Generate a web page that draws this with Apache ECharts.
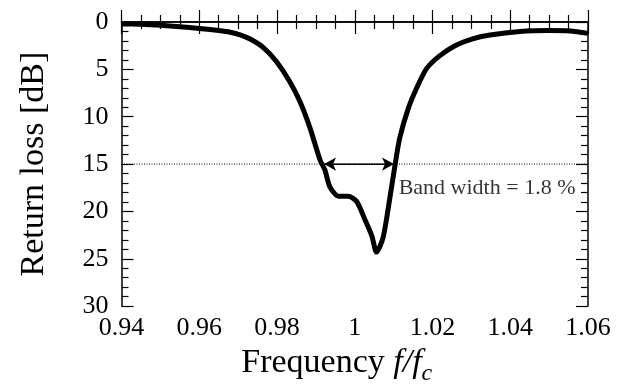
<!DOCTYPE html>
<html>
<head>
<meta charset="utf-8">
<script src="https://cdn.jsdelivr.net/npm/echarts@6/dist/echarts.min.js"></script>
<style>html,body{margin:0;padding:0;background:#fff}#c{width:622px;height:391px}</style>
</head>
<body>
<div id="c"></div>
<script>
var freq = [0.94,0.945,0.95,0.955,0.96,0.965,0.968,0.9705,0.9731,0.9765,0.9799,0.9833,0.9859,0.9885,0.9911,0.9923,0.9936,0.9958,0.9983,1.0005,1.0026,1.0044,1.0056,1.0073,1.0091,1.0104,1.0116,1.0138,1.0159,1.0185,1.0219,1.0258,1.0301,1.0348,1.0425,1.05,1.0554,1.06];
var returnLoss = [0.2,0.25,0.35,0.5,0.68,0.9,1.08,1.35,1.8,2.7,4.2,6.3,8.4,11.2,14.6,15.6,17.4,18.4,18.4,18.95,20.85,22.6,24.3,22.75,18.4,15.0,12.2,9.1,7.0,4.9,3.55,2.5,1.8,1.37,1.0,0.9,0.95,1.2];
var bandLevel = 15;
var bandEdges = [0.9921, 1.0101];
var bandLabel = 'Band width = 1.8 %';
var bandLabelPos = [1.0113, 17.6];
var xRange = [0.94, 1.06];
var yRange = [0, 30];

var FONT = "'Liberation Serif','Times New Roman',serif";
var chart = echarts.init(document.getElementById('c'));
var line = {color:'#000', width:1.5};
function fmt(v){ return String(parseFloat(v.toFixed(2))); }
var baseX = {type:'value', min:xRange[0], max:xRange[1], interval:0.02,
  axisLine:{show:true, lineStyle:line}, splitLine:{show:false},
  axisTick:{show:true, inside:true, length:12, lineStyle:{color:'#000', width:1.2}},
  minorTick:{show:true, splitNumber:4, length:7, lineStyle:{color:'#000', width:1.2}}};
var baseY = {type:'value', min:yRange[0], max:yRange[1], interval:5, inverse:true,
  axisLine:{show:true, lineStyle:line}, splitLine:{show:false},
  axisTick:{show:true, inside:true, length:12, lineStyle:{color:'#000', width:1.2}},
  minorTick:{show:true, splitNumber:5, length:7, lineStyle:{color:'#000', width:1.2}}};

chart.setOption({
  animation:false,
  grid:{left:121.5, right:34, top:22, bottom:80},
  xAxis:[
    Object.assign({}, baseX, {position:'bottom',
      axisLabel:{show:true, formatter:fmt, color:'#000', fontFamily:FONT, fontSize:26, margin:9},
      name:'Frequency {i|f/f}{s|c}', nameLocation:'middle', nameGap:32,
      nameTextStyle:{color:'#000', fontFamily:FONT, fontSize:34, padding:[0,36,0,0],
        rich:{i:{fontFamily:FONT, fontSize:34, fontStyle:'italic', color:'#000'},
              s:{fontFamily:FONT, fontSize:24, fontStyle:'italic', color:'#000', padding:[22,0,0,0]}}}}),
    Object.assign({}, baseX, {position:'top', axisLabel:{show:false}})
  ],
  yAxis:[
    Object.assign({}, baseY, {position:'left',
      axisLabel:{show:true, color:'#000', fontFamily:FONT, fontSize:26, margin:13, padding:[0,0,5,0]},
      name:'Return loss [dB]', nameLocation:'middle', nameGap:70,
      nameTextStyle:{color:'#000', fontFamily:FONT, fontSize:34}}),
    Object.assign({}, baseY, {position:'right', axisLabel:{show:false}})
  ],
  series:[
    {type:'line', data:[[xRange[0],bandLevel],[xRange[1],bandLevel]], symbol:'none',
     lineStyle:{color:'#000', width:1, type:[1,1.5]}, silent:true, z:1},
    {type:'line', data:[[bandEdges[0],bandLevel],[bandEdges[1],bandLevel]], symbol:'none',
     lineStyle:{color:'#000', width:1.2}, silent:true, z:3,
     markLine:{silent:true, symbol:['arrow','arrow'], symbolSize:[10,12],
       lineStyle:{color:'#000', width:1.2, type:'solid'}, label:{show:false},
       data:[[{coord:[bandEdges[0],bandLevel]},{coord:[bandEdges[1],bandLevel]}]]}},
    {type:'line', data:freq.map(function(f,i){return [f, returnLoss[i]];}), symbol:'none',
     smooth:0.25, lineStyle:{color:'#000', width:5}, z:4},
    {type:'scatter', data:[bandLabelPos], symbolSize:0, z:5,
     label:{show:true, position:'right', distance:0, formatter:bandLabel, color:'#000', fontFamily:FONT, fontSize:22}}
  ]
});
</script>
</body>
</html>
